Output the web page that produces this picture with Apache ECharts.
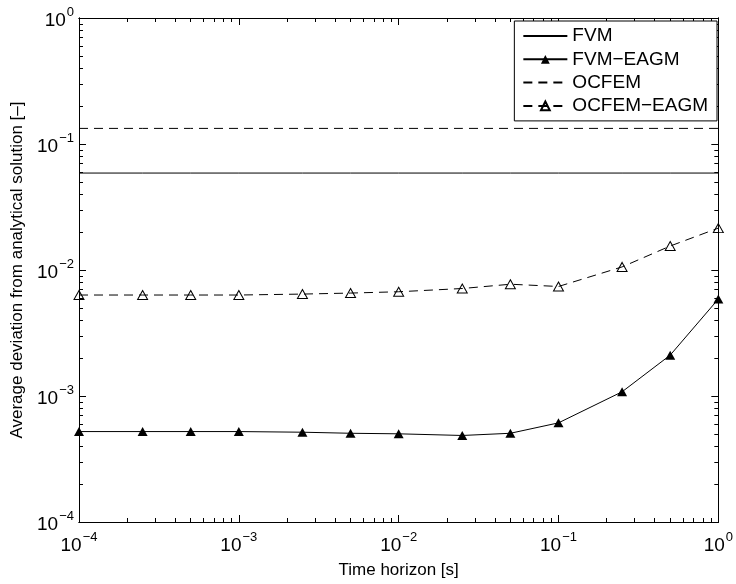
<!DOCTYPE html>
<html>
<head>
<meta charset="utf-8">
<script src="https://cdn.jsdelivr.net/npm/echarts@6/dist/echarts.min.js"></script>
<style>
html,body{margin:0;padding:0;background:#fff;}
#c{width:736px;height:584px;}
</style>
</head>
<body>
<div id="c"></div>
<script>
// ---- data ----
const timeHorizon = [1e-4, 2.5e-4, 5e-4, 1e-3, 2.5e-3, 5e-3, 1e-2, 2.5e-2, 5e-2, 0.1, 0.25, 0.5, 1];
const fvmValue = 0.0588;
const ocfemValue = 0.133;
const fvmEagm = [5.22e-4, 5.22e-4, 5.22e-4, 5.22e-4, 5.16e-4, 5.06e-4, 5.01e-4, 4.86e-4, 5.06e-4, 6.12e-4, 1.08e-3, 2.11e-3, 5.88e-3];
const ocfemEagm = [6.33e-3, 6.33e-3, 6.33e-3, 6.33e-3, 6.44e-3, 6.56e-3, 6.72e-3, 7.13e-3, 7.71e-3, 7.40e-3, 1.058e-2, 1.55e-2, 2.15e-2];
const seriesNames = ['FVM', 'FVM\u2212EAGM', 'OCFEM', 'OCFEM\u2212EAGM'];
const majorTicks = [1e-4, 1e-3, 1e-2, 1e-1, 1];
const minorMantissas = [2, 3, 4, 5, 6, 7, 8, 9];
const xTitle = 'Time horizon [s]';
const yTitle = 'Average deviation from analytical solution [\u2013]';

const minorTicks = [];
majorTicks.slice(0, -1).forEach(d => minorMantissas.forEach(m => minorTicks.push(+(m * d).toPrecision(3))));

const FONT = '"Liberation Sans", Arial, Helvetica, sans-serif';
function supLabel(v) {
  const e = Math.round(Math.log10(v));
  return '{b|10}{s|' + (e < 0 ? '\u2212' + (-e) : String(e)) + '}';
}
const rich = {
  b: { fontSize: 19, fontFamily: FONT, color: '#000', verticalAlign: 'bottom', lineHeight: 24 },
  s: { fontSize: 13, fontFamily: FONT, color: '#000', verticalAlign: 'top', padding: [0, 0, 0, 1] }
};

function logAxis(extra) {
  return Object.assign({
    type: 'log', logBase: 10, min: 1e-4, max: 1,
    splitLine: { show: false },
    axisLine: { show: true, onZero: false, lineStyle: { color: '#000', width: 1 } },
    minorTick: { show: false },
  }, extra);
}
const majorTick = { inside: true, length: 7, customValues: majorTicks, lineStyle: { color: '#000' } };
const minorTick = { inside: true, length: 4, customValues: minorTicks, lineStyle: { color: '#000' } };

const chart = echarts.init(document.getElementById('c'), null, { renderer: 'canvas' });
const pairs = arr => timeHorizon.map((t, i) => [t, arr[i]]);
const flat = v => timeHorizon.map(t => [t, v]);
const hidden = { color: 'rgba(0,0,0,0)', borderColor: 'rgba(0,0,0,0)', borderWidth: 0 };

chart.setOption({
  animation: false,
  backgroundColor: '#fff',
  grid: { left: 79, right: 16, top: 18, bottom: 59, containLabel: false },
  xAxis: [
    logAxis({ position: 'bottom', name: xTitle, nameLocation: 'middle', nameGap: 40,
      nameTextStyle: { fontSize: 17, fontFamily: FONT, color: '#000' },
      axisTick: majorTick,
      axisLabel: { customValues: majorTicks, formatter: supLabel, rich: rich, margin: 9, showMinLabel: true, showMaxLabel: true } }),
    logAxis({ position: 'top', axisTick: majorTick, axisLabel: { show: false } }),
    logAxis({ position: 'bottom', axisTick: minorTick, axisLabel: { show: false } }),
    logAxis({ position: 'top', axisTick: minorTick, axisLabel: { show: false } })
  ],
  yAxis: [
    logAxis({ position: 'left', name: yTitle, nameLocation: 'middle', nameGap: 45, nameRotate: 90,
      nameTextStyle: { fontSize: 17, fontFamily: FONT, color: '#000' },
      axisTick: majorTick,
      axisLabel: { customValues: majorTicks, formatter: supLabel, rich: rich, margin: 5, showMinLabel: true, showMaxLabel: true } }),
    logAxis({ position: 'right', axisTick: majorTick, axisLabel: { show: false } }),
    logAxis({ position: 'left', axisTick: minorTick, axisLabel: { show: false } }),
    logAxis({ position: 'right', axisTick: minorTick, axisLabel: { show: false } })
  ],
  legend: {
    right: 19, top: 21, orient: 'vertical',
    backgroundColor: '#fff', borderColor: '#000', borderWidth: 1, borderRadius: 0,
    padding: [5, 9, 5, 8], itemGap: 3.3, itemWidth: 44, itemHeight: 11,
    textStyle: { fontSize: 19, lineHeight: 20, fontFamily: FONT, color: '#000' },
    data: seriesNames
  },
  series: [
    { name: seriesNames[0], type: 'line', data: flat(fvmValue), showSymbol: false, symbol: 'circle', symbolSize: 0,
      color: '#000', itemStyle: hidden, lineStyle: { color: '#000', width: 1 } },
    { name: seriesNames[1], type: 'line', data: pairs(fvmEagm), symbol: 'triangle', symbolSize: [10, 9],
      color: '#000', itemStyle: { color: '#000', borderColor: '#000', borderWidth: 0 }, lineStyle: { color: '#000', width: 1 } },
    { name: seriesNames[2], type: 'line', data: flat(ocfemValue), showSymbol: false, symbol: 'circle', symbolSize: 0,
      color: '#000', itemStyle: hidden, lineStyle: { color: '#000', width: 1, type: [9, 6] } },
    { name: seriesNames[3], type: 'line', data: pairs(ocfemEagm), symbol: 'triangle', symbolSize: [10, 9],
      color: '#000', itemStyle: { color: 'rgba(0,0,0,0)', borderColor: '#000', borderWidth: 1 }, lineStyle: { color: '#000', width: 1, type: [9, 6] } }
  ]
});
</script>
</body>
</html>
